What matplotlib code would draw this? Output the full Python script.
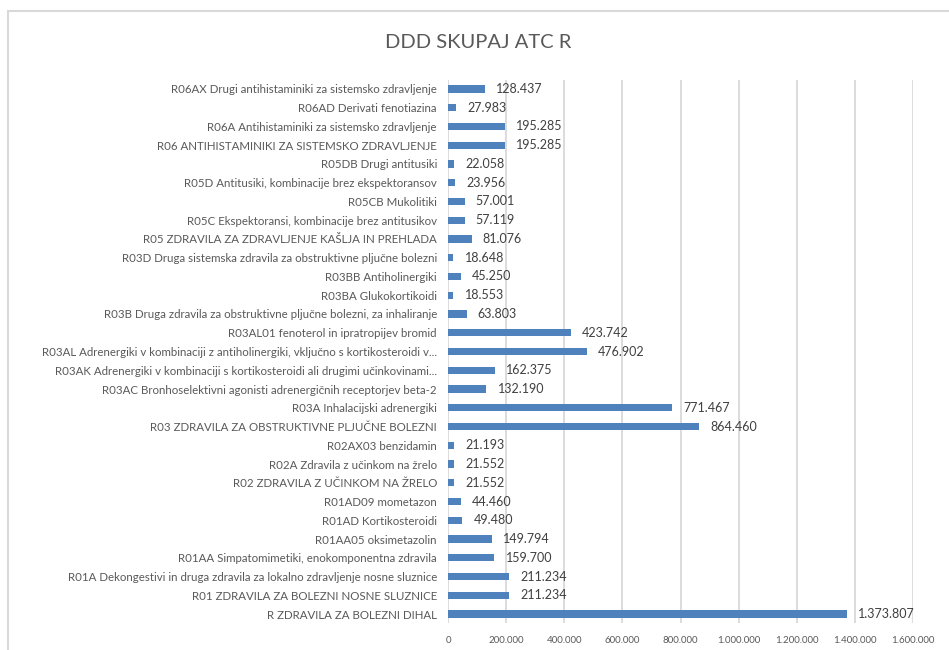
import matplotlib
matplotlib.use("Agg")
import matplotlib.pyplot as plt
from matplotlib.lines import Line2D

categories = [
    "R ZDRAVILA ZA BOLEZNI DIHAL",
    "R01 ZDRAVILA ZA BOLEZNI NOSNE SLUZNICE",
    "R01A Dekongestivi in druga zdravila za lokalno zdravljenje nosne sluznice",
    "R01AA Simpatomimetiki, enokomponentna zdravila",
    "R01AA05 oksimetazolin",
    "R01AD Kortikosteroidi",
    "R01AD09 mometazon",
    "R02 ZDRAVILA Z UČINKOM NA ŽRELO",
    "R02A Zdravila z učinkom na žrelo",
    "R02AX03 benzidamin",
    "R03 ZDRAVILA ZA OBSTRUKTIVNE PLJUČNE BOLEZNI",
    "R03A Inhalacijski adrenergiki",
    "R03AC Bronhoselektivni agonisti adrenergičnih receptorjev beta-2",
    "R03AK Adrenergiki v kombinaciji s kortikosteroidi ali drugimi učinkovinami...",
    "R03AL Adrenergiki v kombinaciji z antiholinergiki, vključno s kortikosteroidi v...",
    "R03AL01 fenoterol in ipratropijev bromid",
    "R03B Druga zdravila za obstruktivne pljučne bolezni, za inhaliranje",
    "R03BA Glukokortikoidi",
    "R03BB Antiholinergiki",
    "R03D Druga sistemska zdravila za obstruktivne pljučne bolezni",
    "R05 ZDRAVILA ZA ZDRAVLJENJE KAŠLJA IN PREHLADA",
    "R05C Ekspektoransi, kombinacije brez antitusikov",
    "R05CB Mukolitiki",
    "R05D Antitusiki, kombinacije brez ekspektoransov",
    "R05DB Drugi antitusiki",
    "R06 ANTIHISTAMINIKI ZA SISTEMSKO ZDRAVLJENJE",
    "R06A Antihistaminiki za sistemsko zdravljenje",
    "R06AD Derivati fenotiazina",
    "R06AX Drugi antihistaminiki za sistemsko zdravljenje",
]
values = [
    1373807, 211234, 211234, 159700, 149794, 49480, 44460,
    21552, 21552, 21193,
    864460, 771467, 132190, 162375, 476902, 423742, 63803, 18553, 45250, 18648,
    81076, 57119, 57001, 23956, 22058,
    195285, 195285, 27983, 128437,
]
x_ticks = [0, 200000, 400000, 600000, 800000, 1000000, 1200000, 1400000, 1600000]
title = "DDD SKUPAJ ATC R"

def fmt(v):
    return f"{v:,}".replace(",", ".")

plt.rcParams['font.family'] = ['Lato', 'DejaVu Sans']

fig = plt.figure(figsize=(9.49, 6.5), dpi=100)
ax = fig.add_axes([448/949, 1-623.4/650, 465/949, (623.4-79.6)/650])

y = list(range(len(categories)))
ax.barh(y, values, height=0.38, color="#4F81BD", zorder=3)
for yi, v in zip(y, values):
    ax.annotate(fmt(v), (v, yi), xytext=(8, 0), textcoords="offset points",
                va="center", ha="left", fontsize=9, color="#404040")

ax.set_ylim(-0.5, len(categories)-0.5)
ax.set_xlim(0, 1600000)
ax.set_yticks(y)
ax.set_yticklabels(categories, fontsize=8.3, color="#595959")
ax.set_xticks(x_ticks)
ax.set_xticklabels([fmt(t) for t in x_ticks], fontsize=7, color="#595959")
ax.tick_params(axis="both", length=0)
ax.tick_params(axis="y", pad=8)
ax.tick_params(axis="x", pad=9)
for s in ax.spines.values():
    s.set_visible(False)
ax.grid(axis="x", color="#d9d9d9", linewidth=1.3, zorder=0)
ax.set_axisbelow(True)

fig.text(478/949, 1-43/650, title, ha="center", va="center", fontsize=14.5, color="#595959")

fig.add_artist(Line2D([7.5/949, 1.0], [1-10.5/650, 1-10.5/650], color="#d9d9d9", linewidth=1.5))
fig.add_artist(Line2D([7.5/949, 7.5/949], [0, 1-10.5/650], color="#d9d9d9", linewidth=1.5))

fig.savefig("out.png", dpi=100)
